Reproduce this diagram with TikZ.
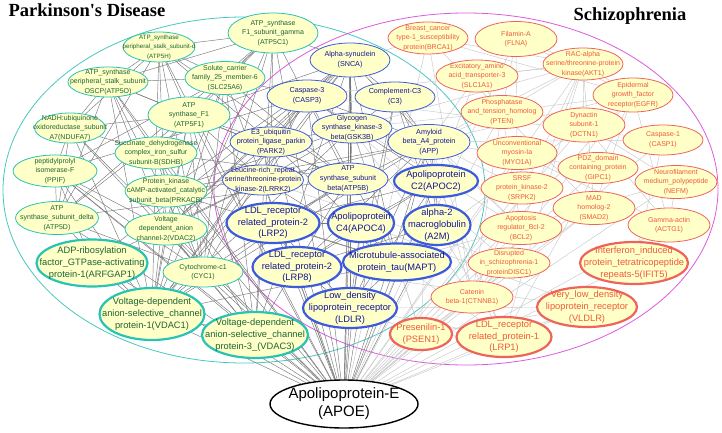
\documentclass[tikz,border=0pt]{standalone}
\usepackage{fontspec}
\setmainfont{Liberation Sans}
\newfontfamily\titlefont{Liberation Serif}
\usetikzlibrary{shapes.geometric,backgrounds}
\definecolor{nodefill}{RGB}{255,255,200}
\definecolor{pdborder}{RGB}{40,195,180}
\definecolor{pdtext}{RGB}{30,100,50}
\definecolor{bborder}{RGB}{60,90,220}
\definecolor{btext}{RGB}{20,20,150}
\definecolor{rborder}{RGB}{238,100,90}
\definecolor{rtext}{RGB}{240,90,60}
\definecolor{pdring}{RGB}{70,200,190}
\definecolor{szring}{RGB}{220,90,220}
\definecolor{edark}{RGB}{120,120,120}
\definecolor{elight}{RGB}{200,200,200}
\newcommand\gnode[7]{\node[#2, minimum width=#5pt, minimum height=#6pt, label={[#2txt]center:{#7}}] (#1) at (#3,#4) {};}
\tikzset{
  base/.style={ellipse, fill=nodefill, inner sep=0pt},
  pd/.style={base, draw=pdborder, line width=0.8pt},
  pdsm/.style={pd},
  pdthick/.style={base, draw=pdborder, line width=2.2pt},
  bl/.style={base, draw=bborder, line width=0.8pt},
  blthick/.style={base, draw=bborder, line width=2.2pt},
  rd/.style={base, draw=rborder, line width=0.8pt},
  rdthick/.style={base, draw=rborder, line width=2.2pt},
  core/.style={ellipse, fill=white, draw=black, line width=1.4pt, inner sep=0pt},
  txtbase/.style={align=center, inner sep=0pt},
  pdtxt/.style={txtbase, text=pdtext, font=\fontsize{7}{9.6}\selectfont},
  pdsmtxt/.style={txtbase, text=pdtext, font=\fontsize{6.2}{9.6}\selectfont},
  pdthicktxt/.style={txtbase, text=pdtext, font=\fontsize{9.3}{11.8}\selectfont},
  bltxt/.style={txtbase, text=btext, font=\fontsize{7.2}{9.8}\selectfont},
  blthicktxt/.style={txtbase, text=btext, font=\fontsize{9.3}{11.6}\selectfont},
  rdtxt/.style={txtbase, text=rtext, font=\fontsize{7}{9.6}\selectfont},
  rdthicktxt/.style={txtbase, text=rtext, font=\fontsize{9.3}{11.6}\selectfont},
  coretxt/.style={txtbase, text=black, font=\fontsize{15}{18}\selectfont},
  edgedark/.style={draw=edark, line width=0.45pt},
  edgelight/.style={draw=elight, line width=0.45pt},
  ring/.style={line width=0.8pt},
  titlestyle/.style={font=\titlefont\bfseries\fontsize{18.5}{20}\selectfont, inner sep=0pt, anchor=base}
}
\begin{document}
\begin{tikzpicture}[x=1pt,y=-1pt]
\useasboundingbox (0,0) rectangle (722,433);
\node[titlestyle] (tpd) at (87,17) {Parkinson's Disease};
\node[titlestyle] (tsz) at (630,21) {Schizophrenia};
% PD thin
\gnode{atp5h}{pdsm}{159}{47}{72}{30}{ATP\_synthase\\peripheral\_stalk\_subunit-d\\(ATP5H)}
\gnode{atp5c1}{pd}{273}{33}{90}{40}{ATP\_synthase\\F1\_subunit\_gamma\\(ATP5C1)}
\gnode{atp5o}{pd}{108}{82}{80}{30}{ATP\_synthase\\peripheral\_stalk\_subunit\\OSCP(ATP5O)}
\gnode{slc25a6}{pd}{225}{78}{80}{33}{Solute\_carrier\\family\_25\_member-6\\(SLC25A6)}
\gnode{ndufa7}{pd}{70}{128}{71}{30}{NADH:ubiquinone\\oxidoreductase\_subunit\\A7(NDUFA7)}
\gnode{atp5f1}{pd}{189}{115}{82}{36}{ATP\\synthase\_F1\\(ATP5F1)}
\gnode{sdhb}{pd}{156}{153}{82}{32}{Succinate\_dehydrogenase\\complex\_iron\_sulfur\\subunit-B(SDHB)}
\gnode{ppif}{pd}{55}{171}{84}{32}{peptidylprolyl\\isomerase-F\\(PPIF)}
\gnode{prkacb}{pd}{166}{191}{82}{32}{Protein\_kinase\\cAMP-activated\_catalytic\\subunit\_beta(PRKACB)}
\gnode{atp5d}{pd}{57}{218}{83}{33}{ATP\\synthase\_subunit\_delta\\(ATP5D)}
\gnode{vdac2}{pd}{166}{229}{82}{32}{Voltage\\dependent\_anion\\channel-2(VDAC2)}
\gnode{cyc1}{pd}{203}{272}{80}{30}{Cytochrome-c1\\(CYC1)}
% PD thick
\gnode{arfgap1}{pdthick}{92}{263}{111}{47}{ADP-ribosylation\\factor\_GTPase-activating\\protein-1(ARFGAP1)}
\gnode{vdac1}{pdthick}{152}{314}{105}{52}{Voltage-dependent\\anion-selective\_channel\\protein-1(VDAC1)}
\gnode{vdac3}{pdthick}{255}{335}{106}{46}{Voltage-dependent\\anion-selective\_channel\\protein-3\_(VDAC3)}
% shared thin
\gnode{snca}{bl}{350}{60}{80}{34}{Alpha-synuclein\\(SNCA)}
\gnode{casp3}{bl}{307}{96}{80}{32}{Caspase-3\\(CASP3)}
\gnode{c3}{bl}{395}{97}{80}{30}{Complement-C3\\(C3)}
\gnode{gsk3b}{bl}{352}{128}{80}{30}{Glycogen\\synthase\_kinase-3\\beta(GSK3B)}
\gnode{app}{bl}{429}{142}{82}{35}{Amyloid\\beta\_A4\_protein\\(APP)}
\gnode{park2}{bl}{271}{142}{82}{30}{E3\_ubiquitin\\protein\_ligase\_parkin\\(PARK2)}
\gnode{lrrk2}{bl}{263}{180}{81}{30}{Leucine-rich\_repeat\\serine/threonine-protein\\kinase-2(LRRK2)}
\gnode{atp5b}{bl}{348}{179}{80}{32}{ATP\\synthase\_subunit\\beta(ATP5B)}
% shared thick
\gnode{apoc2}{blthick}{436}{181}{84}{32}{Apolipoprotein\\C2(APOC2)}
\gnode{lrp2}{blthick}{273}{223}{93}{40}{LDL\_receptor\\related\_protein-2\\(LRP2)}
\gnode{apoc4}{blthick}{361}{223}{66}{38}{Apolipoprotein\\C4(APOC4)}
\gnode{a2m}{blthick}{437}{225}{67}{40}{alpha-2\\macroglobulin\\(A2M)}
\gnode{lrp8}{blthick}{297}{267}{89}{40}{LDL\_receptor\\related\_protein-2\\(LRP8)}
\gnode{mapt}{blthick}{397}{262}{108}{37}{Microtubule-associated\\protein\_tau(MAPT)}
\gnode{ldlr}{blthick}{350}{308}{94}{40}{Low\_density\\lipoprotein\_receptor\\(LDLR)}
% SZ thin
\gnode{brca1}{rd}{428}{38}{80}{32}{Breast\_cancer\\type-1\_susceptibility\\protein(BRCA1)}
\gnode{flna}{rd}{516}{39}{82}{35}{Filamin-A\\(FLNA)}
\gnode{slc1a1}{rd}{477}{76}{82}{32}{Excitatory\_amino\\acid\_transporter-3\\(SLC1A1)}
\gnode{akt1}{rd}{583}{64}{80}{32}{RAC-alpha\\serine/threonine-protein\\kinase(AKT1)}
\gnode{egfr}{rd}{633}{95}{80}{34}{Epidermal\\growth\_factor\\receptor(EGFR)}
\gnode{pten}{rd}{502}{112}{82}{33}{Phosphatase\\and\_tension\_homolog\\(PTEN)}
\gnode{dctn1}{rd}{584}{125}{82}{34}{Dynactin\\subunit-1\\(DCTN1)}
\gnode{casp1}{rd}{663}{140}{80}{30}{Caspase-1\\(CASP1)}
\gnode{myo1a}{rd}{517}{153}{80}{33}{Unconventional\\myosin-Ia\\(MYO1A)}
\gnode{gipc1}{rd}{598}{168}{80}{31}{PDZ\_domain\\containing\_protein\\(GIPC1)}
\gnode{nefm}{rd}{676}{182}{82}{33}{Neurofilament\\medium\_polypeptide\\(NEFM)}
\gnode{srpk2}{rd}{522}{188}{82}{32}{SRSF\\protein\_kinase-2\\(SRPK2)}
\gnode{smad2}{rd}{594}{208}{82}{33}{MAD\\homolog-2\\(SMAD2)}
\gnode{bcl2}{rd}{521}{228}{82}{33}{Apoptosis\\regulator\_Bcl-2\\(BCL2)}
\gnode{actg1}{rd}{669}{225}{82}{34}{Gamma-actin\\(ACTG1)}
\gnode{disc1}{rd}{509}{263}{82}{30}{Disrupted\\in\_schizophrenia-1\\proteinDISC1)}
\gnode{ctnnb1}{rd}{472}{297}{82}{32}{Catenin\\beta-1(CTNNB1)}
% SZ thick
\gnode{ifit5}{rdthick}{634}{263}{108}{42}{Interferon\_induced\\protein\_tetratricopeptide\\repeats-5(IFIT5)}
\gnode{vldlr}{rdthick}{587}{307}{100}{40}{Very\_low\_density\\lipoprotein\_receptor\\(VLDLR)}
\gnode{lrp1}{rdthick}{504}{337}{95}{40}{LDL\_receptor\\related\_protein-1\\(LRP1)}
\gnode{psen1}{rdthick}{421}{334}{62}{32}{Presenilin-1\\(PSEN1)}
% core
\gnode{apoe}{core}{344}{404}{148}{48}{Apolipoprotein-E\\(APOE)}
\begin{scope}[on background layer]
\draw[pdring, ring] (244,190) ellipse [x radius=241, y radius=173];
\draw[szring, ring] (466,189) ellipse [x radius=252, y radius=176];
% APOE links
\foreach \n in {atp5h,atp5c1,atp5o,slc25a6,ndufa7,atp5f1,sdhb,ppif,prkacb,atp5d,vdac2,cyc1,arfgap1,vdac1,vdac3,snca,casp3,c3,gsk3b,app,park2,lrrk2,atp5b,apoc2,lrp2,apoc4,a2m,lrp8,mapt,ldlr}
  \draw[edgedark] (apoe) -- (\n);
\foreach \n in {brca1,flna,slc1a1,akt1,egfr,pten,dctn1,casp1,myo1a,gipc1,nefm,srpk2,smad2,bcl2,actg1,disc1,ctnnb1,ifit5,vldlr,lrp1,psen1}
  \draw[edgelight] (apoe) -- (\n);
% PD links
\foreach \a/\b in {atp5h/atp5o,atp5h/atp5f1,atp5h/atp5c1,atp5h/slc25a6,atp5h/atp5b,atp5h/atp5d,atp5h/sdhb,atp5h/vdac2,atp5h/cyc1,atp5h/ndufa7,atp5h/park2,
  atp5o/atp5f1,atp5o/atp5c1,atp5o/atp5b,atp5o/atp5d,atp5o/ndufa7,atp5o/sdhb,atp5o/cyc1,atp5o/vdac1,atp5o/vdac2,atp5o/slc25a6,
  atp5c1/atp5f1,atp5c1/atp5b,atp5c1/atp5d,atp5c1/sdhb,atp5c1/cyc1,atp5c1/vdac1,atp5c1/vdac3,atp5c1/snca,atp5c1/park2,atp5c1/slc25a6,
  atp5f1/atp5b,atp5f1/atp5d,atp5f1/sdhb,atp5f1/cyc1,atp5f1/vdac1,atp5f1/vdac2,atp5f1/vdac3,atp5f1/park2,atp5f1/lrrk2,atp5f1/snca,atp5f1/ndufa7,
  slc25a6/vdac1,slc25a6/vdac2,slc25a6/vdac3,slc25a6/ppif,slc25a6/cyc1,slc25a6/atp5b,slc25a6/casp3,
  ndufa7/sdhb,ndufa7/cyc1,ndufa7/atp5d,ndufa7/vdac1,ndufa7/ppif,
  sdhb/cyc1,sdhb/vdac1,sdhb/vdac3,sdhb/atp5b,sdhb/prkacb,
  ppif/vdac1,ppif/vdac2,ppif/vdac3,ppif/atp5d,ppif/arfgap1,ppif/casp3,ppif/cyc1,
  prkacb/vdac1,prkacb/gsk3b,prkacb/app,prkacb/lrrk2,prkacb/snca,prkacb/mapt,
  atp5d/atp5b,atp5d/vdac1,atp5d/cyc1,
  vdac2/vdac1,vdac2/vdac3,vdac2/cyc1,vdac2/park2,vdac2/snca,vdac2/casp3,vdac2/lrrk2,
  cyc1/vdac1,cyc1/vdac3,cyc1/casp3,cyc1/atp5b,
  arfgap1/lrrk2,arfgap1/vdac1,arfgap1/snca,
  vdac1/vdac3,vdac1/park2,vdac1/snca,vdac1/casp3,vdac1/app,vdac1/gsk3b,vdac1/mapt,vdac1/lrrk2,vdac1/atp5b,
  vdac3/park2,vdac3/snca,vdac3/atp5b,
  snca/park2,snca/lrrk2,snca/casp3,snca/gsk3b,snca/app,snca/mapt,snca/c3,snca/atp5b,snca/ldlr,
  casp3/park2,casp3/app,casp3/mapt,casp3/gsk3b,casp3/lrrk2,casp3/apoc2,
  c3/app,c3/a2m,c3/apoc2,c3/ldlr,c3/gsk3b,
  gsk3b/mapt,gsk3b/app,gsk3b/lrrk2,gsk3b/park2,
  app/mapt,app/lrp2,app/lrp8,app/ldlr,app/a2m,app/apoc2,app/lrrk2,
  park2/lrrk2,park2/mapt,lrrk2/mapt,
  apoc2/apoc4,apoc2/ldlr,apoc2/lrp8,apoc2/lrp2,apoc2/a2m,
  lrp2/ldlr,lrp2/lrp8,lrp2/apoc4,lrp2/mapt,
  lrp8/ldlr,lrp8/mapt,lrp8/apoc4,lrp8/a2m,
  ldlr/apoc4,ldlr/a2m}
  \draw[edgedark] (\a) -- (\b);
% SZ links
\foreach \a/\b in {brca1/akt1,brca1/pten,brca1/egfr,brca1/ctnnb1,brca1/snca,
  flna/akt1,flna/egfr,flna/pten,
  slc1a1/pten,slc1a1/akt1,slc1a1/app,
  akt1/pten,akt1/egfr,akt1/gsk3b,akt1/ctnnb1,akt1/smad2,akt1/bcl2,akt1/casp3,akt1/app,akt1/dctn1,akt1/lrp1,
  egfr/pten,egfr/smad2,egfr/ctnnb1,egfr/actg1,egfr/app,
  pten/ctnnb1,pten/smad2,pten/app,pten/gsk3b,pten/bcl2,
  dctn1/nefm,dctn1/mapt,dctn1/actg1,
  casp1/casp3,casp1/app,casp1/ifit5,
  myo1a/actg1,myo1a/flna,
  gipc1/lrp1,gipc1/app,gipc1/egfr,
  nefm/actg1,nefm/mapt,
  srpk2/app,smad2/ctnnb1,
  bcl2/casp3,bcl2/snca,bcl2/app,
  disc1/ctnnb1,disc1/gsk3b,disc1/lrrk2,
  ctnnb1/gsk3b,ctnnb1/psen1,ctnnb1/app,
  psen1/app,psen1/mapt,psen1/ldlr,psen1/lrp1,psen1/gsk3b,
  lrp1/app,lrp1/vldlr,lrp1/ldlr,lrp1/a2m,lrp1/apoc2,lrp1/mapt,
  vldlr/ldlr,vldlr/lrp8,vldlr/apoc4,vldlr/psen1}
  \draw[edgelight] (\a) -- (\b);
\end{scope}
\end{tikzpicture}
\end{document}
